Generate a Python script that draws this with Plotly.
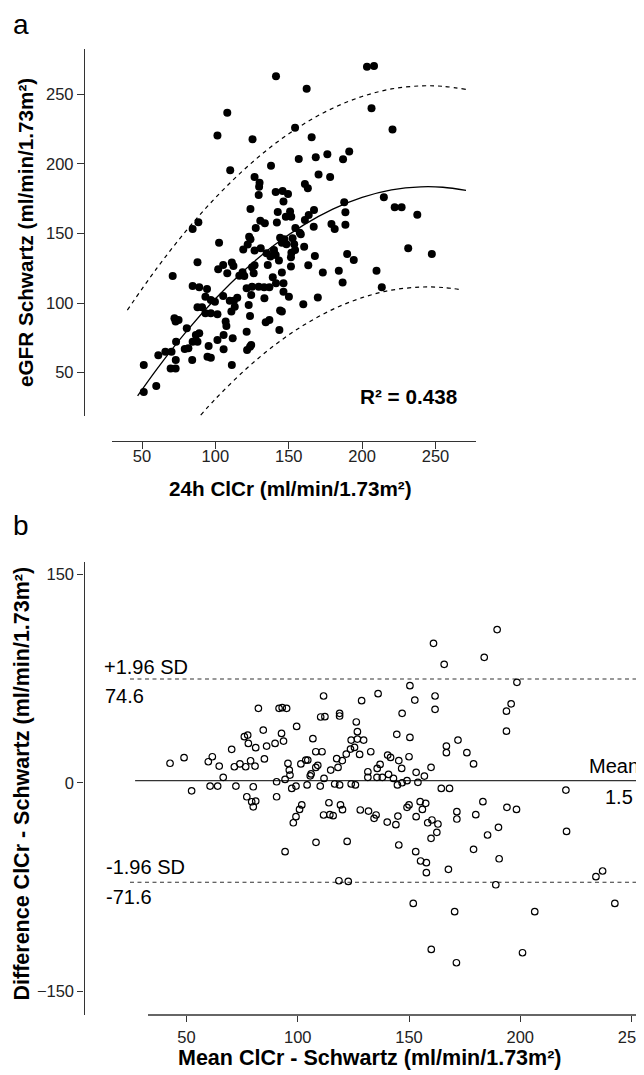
import plotly.graph_objects as go

# the page body has an 8px default margin; the figure fills the rest of the window
OFF = 8
W, H = 644 - OFF, 1075 - OFF

# ---------------- Panel a data: 24h ClCr vs eGFR Schwartz ----------------
clcr_a = [141.3, 162.2, 203.3, 208.1, 108.1, 206.4, 154.3, 220.7, 101.4, 125.3, 165.6,
          191.2, 187.0, 176.3, 168.4, 156.8, 137.9, 110.1, 170.3, 178.2, 126.7, 130.1, 129.8,
          161.0, 163.0, 129.5, 141.1, 145.8, 149.5, 146.4, 123.9, 167.2, 163.6, 142.5, 150.9,
          151.7, 130.6, 133.7, 141.9, 161.0, 167.0, 127.5, 179.1, 181.3, 187.8, 188.6, 188.6,
          84.5, 88.4, 214.8, 222.2, 226.9, 237.6, 231.4, 247.5, 123.0, 123.9, 102.5, 144.1,
          147.0, 145.3, 148.4, 152.6, 153.7, 154.3, 158.2, 160.5, 126.7, 130.9, 134.9, 139.9,
          141.1, 143.3, 151.8, 151.5, 167.8, 189.8, 194.3, 184.1, 209.8, 87.8, 101.9, 105.3,
          111.2, 112.3, 108.1, 125.0, 126.7, 118.5, 116.3, 119.7, 126.1, 135.7, 139.1, 145.3,
          151.5, 163.3, 173.2, 70.9,
          84.5, 89.0, 94.3, 93.2, 96.9, 99.7, 87.8, 90.9, 93.2, 96.9, 101.4, 105.3, 109.8,
          112.6, 114.9, 121.3, 125.0, 129.5, 133.2, 136.8, 141.3, 146.4, 146.4, 150.1, 133.4,
          124.4, 122.7, 123.6, 113.2, 110.9, 107.0, 107.5, 105.6, 111.8, 121.3, 134.3, 136.8,
          144.1, 145.3, 143.6, 159.9, 169.8, 186.7, 213.4, 121.6, 123.6, 124.4, 105.6, 101.4,
          95.4, 94.6, 96.9, 86.7, 89.0, 84.5, 87.8, 79.1, 81.6, 84.2, 73.2, 72.1, 74.9, 72.9,
          80.5, 73.0, 69.5, 72.9, 65.9, 70.1, 61.1, 111.2, 51.2, 59.7, 51.2,
          154.5, 157.5, 148.0, 119.0, 122.0, 140.0, 137.5]
egfr_a = [262.9, 254.0, 269.8, 270.3, 236.8, 239.9, 226.0, 224.6, 220.3, 217.6, 219.1,
          208.8, 203.3, 206.9, 204.7, 203.5, 198.7, 195.4, 192.3, 190.6, 190.6, 186.5, 183.6,
          185.6, 182.5, 177.7, 179.8, 180.5, 178.4, 172.9, 167.6, 166.9, 163.3, 165.5, 165.7,
          162.1, 159.2, 157.3, 157.8, 159.7, 154.9, 154.0, 156.8, 153.2, 172.4, 165.2, 156.3,
          153.2, 158.0, 176.0, 168.8, 168.8, 163.5, 139.3, 135.3, 147.7, 145.8, 143.4, 147.0,
          145.8, 143.4, 142.2, 146.5, 142.2, 138.1, 149.4, 140.5, 137.7, 139.3, 135.8, 138.1,
          134.5, 130.5, 136.2, 132.9, 133.8, 135.3, 131.0, 123.3, 123.3, 129.3, 124.3, 127.4,
          129.1, 126.7, 121.4, 125.7, 127.1, 122.1, 119.7, 119.5, 121.4, 127.4, 118.5, 121.9,
          126.2, 127.1, 121.9, 119.5,
          112.3, 111.3, 110.1, 104.6, 102.2, 101.0, 97.0, 97.0, 92.7, 92.7, 91.9, 105.1, 101.7,
          101.7, 103.9, 110.6, 111.8, 111.8, 111.3, 111.3, 114.2, 114.2, 108.2, 104.6, 103.4,
          105.8, 98.6, 90.7, 97.4, 93.9, 86.7, 83.6, 77.1, 74.7, 79.5, 86.2, 87.9,
          94.6, 93.9, 80.7, 99.1, 104.1, 114.7, 111.3, 66.3, 68.7, 69.9, 66.8, 73.5,
          69.2, 61.5, 60.8, 77.1, 78.3, 72.3, 72.3, 67.0, 67.5, 59.1, 72.3, 89.1, 87.9, 86.7,
          81.9, 59.1, 53.1, 53.1, 65.1, 65.1, 62.5, 55.5, 55.5, 40.4, 36.1,
          154.0, 150.5, 162.0, 138.5, 142.0, 136.0, 133.5]

# quadratic fit and 95% prediction limits
fit_x = [47, 60, 80, 100, 120, 140, 160, 180, 200, 220, 240, 255, 270.8]
fit_y = [33.3, 52.4, 79.3, 103.1, 123.8, 141.5, 156.0, 167.5, 175.9, 181.3, 183.5, 183.2, 181.0]
upper_x = [40, 60, 80, 100, 120, 140, 160, 180, 200, 220, 240, 255, 270.8]
upper_y = [95.0, 124.9, 151.8, 175.6, 196.3, 214.0, 228.5, 240.0, 248.4, 253.8, 256.0, 255.7, 253.5]
lower_x = [90, 100, 120, 140, 160, 180, 200, 220, 240, 255, 267.2]
lower_y = [19.5, 31.1, 51.8, 69.5, 84.0, 95.5, 103.9, 109.3, 111.5, 111.2, 109.7]
r2_text = "R² = 0.438"

# ---------------- Panel b data: Bland-Altman ----------------
mean_b = [42.6, 48.9, 52.3, 59.8, 61.6, 64.7, 60.6, 64.0, 66.5, 70.3, 71.5, 74.0, 76.6, 78.8,
          80.8, 72.2, 80.0, 82.3, 84.5, 76.0, 77.5, 77.8, 81.1, 86.0, 89.8, 85.0, 77.1, 79.3,
          81.1, 80.0, 90.5, 90.5, 91.6, 93.0, 95.0, 92.7, 93.6,
          96.2, 96.5, 94.3, 95.6, 99.5, 106.8, 108.1, 110.9, 103.6, 104.5, 101.4, 108.1, 109.0,
          106.0, 105.6, 111.8, 99.2, 97.3, 104.2, 110.1, 114.8, 117.5, 120.0, 118.1, 121.8,
          123.7, 125.5, 124.0, 126.8, 129.6, 127.8, 132.8, 131.5, 131.5, 124.0, 125.9, 118.8,
          116.6, 140.4, 141.7, 145.4, 150.0, 144.5, 150.4, 135.7, 137.0, 140.8, 146.7, 135.6,
          138.0, 143.0, 144.8, 146.9, 149.1, 153.2, 156.9, 159.9, 166.8, 166.8, 172.0, 176.0,
          179.0, 154.0, 164.5, 168.2, 220.5,
          111.6, 128.7, 136.1, 150.4, 161.7, 161.7, 152.6, 146.9, 110.3, 112.2, 118.8, 118.8,
          126.3, 126.8, 198.5, 195.9, 193.8, 193.8, 189.6, 161.0, 183.8, 165.8,
          220.8, 234.0, 237.0, 242.5, 206.5, 170.5, 151.9, 189.0, 167.7, 157.8, 157.8, 155.2,
          153.0, 190.5, 179.0, 185.3, 190.2, 194.0, 198.3, 180.0, 171.5, 171.5, 183.2, 159.9,
          162.5, 158.4, 160.3, 163.0, 153.2, 156.0, 155.0, 157.5, 150.0, 149.1, 145.0, 144.1,
          140.2, 145.4, 135.2, 134.3, 131.8, 128.1, 120.1, 119.2, 122.2, 108.2, 94.3, 111.6,
          114.4, 115.9, 114.0, 100.8, 99.2, 98.0, 101.8, 122.7, 118.5, 160.0, 171.3, 201.0]
diff_b = [14.0, 18.0, -5.8, 15.1, 18.7, 12.0, -2.4, -2.4, 3.9, 24.0, 11.5, 13.5, 11.5, 15.8,
          12.0, -2.4, -2.9, 53.5, 37.9, 33.1, 34.3, 28.3, 25.2, 26.4, 28.3, 17.1, -10.1, -13.7,
          -13.2, -17.3, 0.7, -10.1, 53.5, 54.0, 53.5, 35.5, 30.0,
          9.1, 5.5, 2.4, 13.9, 40.5, 31.7, 22.3, 22.3, 16.3, 16.3, 13.5, 11.0, 12.5,
          6.3, 5.0, 3.1, -2.4, -4.1, -1.6, -2.4, 9.1, 17.3, 15.9, 11.0, 20.6,
          24.2, 25.4, 30.7, 31.4, 30.7, 20.4, 22.3, 7.9, 3.9, -0.9, -1.6, -1.6,
          -0.9, 19.9, 18.2, 15.9, 18.7, 34.8, 32.6, 10.3, 13.2, 6.0, 10.3, 3.9,
          3.9, 3.1, -1.6, 0.0, 1.5, 7.5, 4.8, 11.1, 26.4, 21.6, 30.7, 21.6,
          13.5, 0.3, -4.1, -4.1, -5.3,
          62.4, 59.0, 64.1, 69.8, 62.4, 52.8, 59.5, 49.9, 47.3, 47.5, 49.9, 48.0,
          43.7, 36.7, 72.2, 56.8, 51.5, 37.1, 110.2, 100.3, 90.2, 85.2,
          -35.0, -67.6, -63.5, -86.8, -92.8, -92.8, -86.8, -73.4, -62.3, -64.7, -57.5, -56.3,
          -49.6, -54.7, -47.9, -37.6, -32.1, -17.7, -19.2, -23.0, -20.8, -26.1, -13.6, -40.0,
          -35.7, -28.8, -26.8, -29.7, -24.4, -19.2, -13.6, -14.8, -16.0, -17.7, -24.0, -30.2,
          -28.3, -44.8, -23.2, -25.6, -20.4, -19.6, -19.4, -16.0, -42.2, -42.9, -49.6, -23.2,
          -23.0, -23.7, -14.4, -19.2, -24.4, -28.8, -16.0, -71.0, -70.5, -119.9, -129.5, -122.3]
bias = 1.5
loa_upper = 74.6
loa_lower = -71.6
bias_x = [26.9, 254.3]
loa_x = [24.6, 252.0]
axis_b_x = [32.7, 255.6]   # drawn extent of the bottom axis line

ticks_a = [50, 100, 150, 200, 250]
ticks_b_x = [50, 100, 150, 200, 250]
ticks_b_y = [-150, 0, 150]

FONT = "Liberation Sans, Arial, Helvetica, sans-serif"
AX = "#333333"


def fx(p):
    """window pixel column -> paper fraction"""
    return (p - OFF) / W


def fy(p):
    """window pixel row -> paper fraction"""
    return 1 - (p - OFF) / H


fig = go.Figure()

# panel a
fig.add_trace(go.Scatter(x=clcr_a, y=egfr_a, mode="markers", xaxis="x", yaxis="y",
                         marker=dict(size=8, color="black", line=dict(width=0)),
                         showlegend=False, hoverinfo="skip"))
fig.add_trace(go.Scatter(x=fit_x, y=fit_y, mode="lines", line_shape="spline", xaxis="x", yaxis="y",
                         line=dict(color="black", width=1.3), showlegend=False))
fig.add_trace(go.Scatter(x=upper_x, y=upper_y, mode="lines", line_shape="spline", xaxis="x", yaxis="y",
                         line=dict(color="black", width=1.2, dash="4px,4px"), showlegend=False))
fig.add_trace(go.Scatter(x=lower_x, y=lower_y, mode="lines", line_shape="spline", xaxis="x", yaxis="y",
                         line=dict(color="black", width=1.2, dash="4px,4px"), showlegend=False))

# panel b
fig.add_trace(go.Scatter(x=bias_x, y=[bias, bias], mode="lines", xaxis="x2", yaxis="y2",
                         line=dict(color="#333333", width=1.3), showlegend=False))
fig.add_trace(go.Scatter(x=loa_x, y=[loa_upper, loa_upper], mode="lines", xaxis="x2", yaxis="y2",
                         line=dict(color="#333333", width=1.1, dash="4px,3.5px"), showlegend=False))
fig.add_trace(go.Scatter(x=loa_x, y=[loa_lower, loa_lower], mode="lines", xaxis="x2", yaxis="y2",
                         line=dict(color="#333333", width=1.1, dash="4px,3.5px"), showlegend=False))
fig.add_trace(go.Scatter(x=mean_b, y=diff_b, mode="markers", xaxis="x2", yaxis="y2",
                         marker=dict(symbol="circle-open", size=6.5, color="black",
                                     line=dict(width=1.2, color="black")),
                         showlegend=False, hoverinfo="skip"))

axis_common = dict(linecolor=AX, linewidth=1.3, ticks="outside",
                   tickcolor=AX, tickwidth=1.3, showgrid=False, zeroline=False,
                   ticklabeloverflow="allow",
                   tickfont=dict(family=FONT, size=16.5, color="#222222"))

fig.update_layout(
    width=W, height=H, autosize=False,
    margin=dict(l=0, r=0, t=0, b=0, pad=0),
    paper_bgcolor="white", plot_bgcolor="white",
    font=dict(family=FONT, color="black"),
    xaxis=dict(domain=[fx(111.5), fx(476)], range=[29.2, 277.6], anchor="free",
               position=fy(440.5), tickvals=ticks_a, ticklen=7, showline=True,
               ticklabelstandoff=-6, **axis_common),
    yaxis=dict(domain=[fy(416), fy(49)], range=[18.9, 282.5], anchor="free",
               position=fx(84), tickvals=ticks_a, ticklen=7, showline=True, **axis_common),
    xaxis2=dict(domain=[fx(128.65), 1.0], range=[24, 255.6], anchor="y2", side="bottom",
                tickvals=ticks_b_x, ticklen=6, showline=False, ticklabelstandoff=1,
                **axis_common),
    yaxis2=dict(domain=[fy(1015), fy(562)], range=[-167.1, 158.8], anchor="free",
                position=fx(83.5), tickvals=ticks_b_y, ticklen=6, showline=True, **axis_common),
)

# bottom axis line of panel b spans only part of the plotting width
fig.add_shape(type="line", xref="x2", yref="paper", x0=axis_b_x[0], x1=axis_b_x[1],
              y0=fy(1015), y1=fy(1015), line=dict(color=AX, width=1.3))

bold = dict(family=FONT, size=20.7, color="black")
bold_b = dict(family=FONT, size=21.5, color="black")
reg = dict(family=FONT, size=20, color="black")


def ann(text, x, y, font, xanchor="center", yanchor="middle", angle=0):
    fig.add_annotation(text=text, x=fx(x), y=fy(y), xref="paper", yref="paper",
                       showarrow=False, font=font, xanchor=xanchor, yanchor=yanchor,
                       textangle=angle, borderpad=0)


ann("a", 12, 8, dict(family=FONT, size=28, color="black"), xanchor="left", yanchor="top")
ann("b", 12, 526, dict(family=FONT, size=28, color="black"), xanchor="left")
ann("<b>24h ClCr (ml/min/1.73m²)</b>", 290, 488, bold)
ann("<b>eGFR Schwartz (ml/min/1.73m²)</b>", 26, 233, bold, angle=-90)
ann("<b>" + r2_text + "</b>", 408, 396, bold)
ann("<b>Mean ClCr - Schwartz (ml/min/1.73m²)</b>", 370, 1057.5, bold_b)
ann("<b>Difference ClCr - Schwartz (ml/min/1.73m²)</b>", 21, 783.5, bold_b, angle=-90)
ann("+1.96 SD", 103, 666.5, reg, xanchor="left")
ann(f"{loa_upper}", 104, 695.5, reg, xanchor="left")
ann("-1.96 SD", 105, 866.7, reg, xanchor="left")
ann(f"{loa_lower}", 105, 896.7, reg, xanchor="left")
ann("Mean", 640, 765.5, reg, xanchor="right")
ann(f"{bias}", 619, 796.5, reg)

fig.write_html("out.html")
